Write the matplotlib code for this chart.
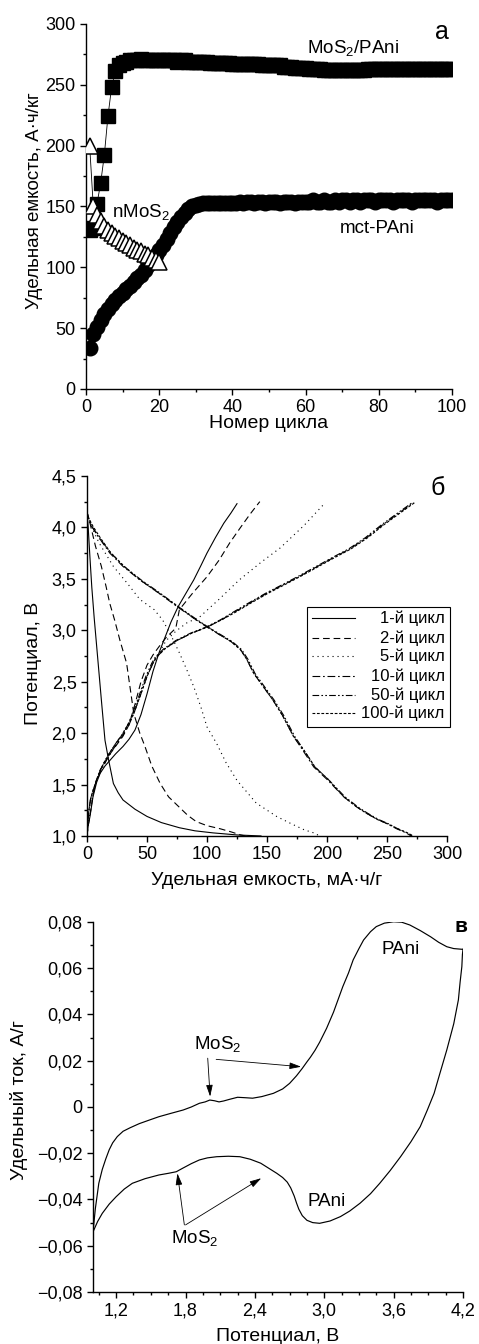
import matplotlib
matplotlib.use("Agg")
import matplotlib.pyplot as plt
import matplotlib.ticker as ticker
from matplotlib.patches import Rectangle

plt.rcParams['font.family'] = ['Liberation Sans', 'DejaVu Sans']
plt.rcParams['mathtext.fontset'] = 'custom'
plt.rcParams['mathtext.rm'] = 'Liberation Sans'
plt.rcParams['mathtext.it'] = 'Liberation Sans:italic'
plt.rcParams['mathtext.bf'] = 'Liberation Sans:bold'
plt.rcParams['axes.unicode_minus'] = True

# ---- panel a: capacity vs cycle number ----
cycles = list(range(1, 101))
mos2_pani = [131, 132, 152, 169, 192, 224, 248, 261, 266, 268,
             269, 270, 270, 270, 271, 270, 270, 270, 270, 270,
             270, 270, 270, 270, 269, 270, 270, 269, 269, 269,
             269, 269, 269, 268, 268, 268, 268, 268, 268, 267,
             267, 267, 267, 267, 267, 267, 267, 266, 266, 266,
             266, 266, 266, 265, 265, 265, 264, 264, 264, 264,
             263, 263, 263, 263, 262, 262, 262, 262, 262, 262,
             262, 262, 262, 262, 262, 262, 263, 263, 263, 263,
             263, 263, 263, 263, 263, 263, 263, 263, 263, 263,
             263, 263, 263, 263, 263, 263, 263, 263, 263, 263]
mct_pani = [34, 45, 51, 57, 62, 66, 70, 73, 76, 79,
            82, 85, 88, 91, 94, 98, 102, 106, 110, 114,
            118, 123, 128, 133, 137, 141, 145, 148, 150, 151,
            152, 153, 153, 153, 153, 153, 153, 153, 153, 153,
            153, 154, 153, 154, 154, 153, 154, 154, 153, 154,
            154, 154, 153, 154, 154, 154, 153, 154, 154, 154,
            154, 155, 154, 154, 155, 154, 154, 155, 154, 155,
            155, 154, 155, 155, 154, 155, 155, 155, 154, 155,
            155, 155, 155, 154, 155, 155, 155, 155, 154, 155,
            155, 155, 155, 155, 155, 154, 155, 155, 155, 155]
nmos2_cycles = list(range(1, 21))
nmos2 = [200, 150, 143, 138, 134, 131, 128, 126, 124, 122,
         120, 118, 116, 114, 113, 111, 110, 108, 106, 104]

# ---- panel b: charge/discharge curves (capacity mAh/g, potential V) ----
c1_dis_cap = [0, 1, 2.5, 4, 6, 9, 12, 15, 18, 22, 26, 30, 40, 50, 62, 77, 90, 105, 125, 145]
c1_dis_v = [4.15, 4.0, 3.7, 3.42, 3.12, 2.72, 2.32, 1.93, 1.74, 1.51, 1.42, 1.35, 1.26, 1.19, 1.13, 1.08, 1.05, 1.03, 1.01, 1.0]
c1_chg_cap = [0, 1, 2.5, 5, 8, 11, 15, 18, 24, 30, 35, 40, 45, 50, 55, 60, 64, 70, 76, 83, 89, 95, 100, 107, 114, 120, 125]
c1_chg_v = [1.0, 1.1, 1.19, 1.38, 1.52, 1.61, 1.68, 1.72, 1.80, 1.87, 1.94, 2.03, 2.18, 2.38, 2.60, 2.78, 2.90, 3.08, 3.23, 3.37, 3.49, 3.63, 3.75, 3.90, 4.04, 4.14, 4.23]

c2_dis_cap = [0, 2.5, 7, 12, 16, 19, 23, 27.5, 33, 39, 44, 48, 54, 61, 68, 76, 84, 91, 100, 111, 120, 128, 132]
c2_dis_v = [4.15, 4.04, 3.82, 3.62, 3.42, 3.26, 3.10, 2.90, 2.68, 2.19, 2.0, 1.88, 1.68, 1.51, 1.38, 1.29, 1.20, 1.14, 1.10, 1.07, 1.04, 1.01, 1.0]
c2_chg_cap = [0, 1, 2.5, 5, 8, 12, 16, 20, 25, 30, 35, 40, 45, 50, 55, 60, 66, 74, 77, 88, 100, 110, 119, 128, 136, 144]
c2_chg_v = [1.0, 1.1, 1.2, 1.4, 1.55, 1.66, 1.74, 1.81, 1.89, 1.97, 2.08, 2.28, 2.50, 2.66, 2.76, 2.84, 2.93, 3.02, 3.20, 3.36, 3.52, 3.68, 3.85, 4.0, 4.13, 4.25]

c5_dis_cap = [0, 2, 10, 22, 34, 44, 56, 63, 70, 77, 83, 89, 95, 100, 108, 116, 125, 141, 158, 170, 181, 189, 194]
c5_dis_v = [4.15, 4.05, 3.85, 3.62, 3.45, 3.30, 3.20, 3.10, 2.95, 2.78, 2.62, 2.45, 2.25, 2.06, 1.90, 1.71, 1.54, 1.32, 1.19, 1.12, 1.06, 1.03, 1.0]
c5_chg_cap = [0, 1, 2.5, 5, 8, 12, 16, 20, 25, 30, 36, 42, 48, 54, 60, 66, 74, 83, 94, 110, 127, 145, 161, 181, 197]
c5_chg_v = [1.0, 1.12, 1.22, 1.40, 1.55, 1.66, 1.75, 1.83, 1.91, 1.99, 2.12, 2.30, 2.50, 2.66, 2.78, 2.90, 2.99, 3.07, 3.13, 3.30, 3.49, 3.66, 3.80, 4.02, 4.22]

cl_dis_v = [4.15, 4.10, 4.01, 3.90, 3.75, 3.62, 3.49, 3.36, 3.23, 3.10, 3.03, 2.96, 2.89, 2.81, 2.72, 2.58, 2.45, 2.32, 2.17, 1.97, 1.83, 1.67, 1.55, 1.38, 1.28, 1.22, 1.16, 1.12, 1.07, 1.03, 1.00]
c10_dis_cap = [0, 1, 4, 10, 19, 30, 44, 60, 75, 91, 100, 110, 120, 128, 133, 139, 147, 155, 163, 172, 180, 189, 200, 214, 225, 233, 242, 250, 258, 266, 270]
c50_dis_cap = [0, 1, 4, 10, 20, 31, 45, 61, 76, 92, 101, 111, 121, 129, 134, 140, 148, 156, 164, 173, 181, 190, 201, 215, 226, 234, 243, 251, 259, 267, 271]
c100_dis_cap = [0, 1, 5, 11, 20, 31, 44, 60, 76, 91, 101, 110, 120, 128, 133, 139, 147, 155, 163, 172, 181, 190, 201, 214, 225, 233, 242, 250, 259, 267, 272]

cl_chg_v = [1.0, 1.12, 1.24, 1.36, 1.44, 1.54, 1.64, 1.73, 1.81, 1.90, 1.98, 2.08, 2.19, 2.35, 2.55, 2.68, 2.74, 2.82, 2.90, 2.97, 3.03, 3.10, 3.17, 3.26, 3.36, 3.45, 3.53, 3.62, 3.71, 3.79, 3.90, 4.03, 4.14, 4.24]
c10_chg_cap = [0, 0.5, 1.5, 3, 5, 8, 12, 16, 20, 25, 30, 35, 39, 44, 50, 55, 58, 65, 75, 87, 100, 112, 122, 135, 150, 165, 178, 192, 206, 219, 233, 247, 260, 272]
c50_chg_cap = [0, 0.5, 1.5, 3, 5, 8, 11, 15, 19, 24, 29, 34, 38, 43, 49, 54, 57, 64, 74, 86, 99, 111, 121, 134, 149, 164, 177, 191, 205, 218, 232, 246, 259, 271]
c100_chg_cap = [0, 0.5, 1.5, 3, 5, 8, 11, 15, 19, 24, 29, 34, 39, 44, 50, 55, 58, 65, 75, 87, 100, 112, 123, 136, 151, 166, 179, 193, 207, 220, 234, 248, 261, 273]

legend_labels = ["1-й цикл", "2-й цикл", "5-й цикл", "10-й цикл", "50-й цикл", "100-й цикл"]

# ---- panel c: cyclic voltammogram ----
cv_e_fwd = [1.00, 1.02, 1.05, 1.08, 1.11, 1.14, 1.17, 1.21, 1.26, 1.32, 1.40, 1.49, 1.57, 1.67, 1.78,
            1.85, 1.92, 1.97, 2.01, 2.05, 2.09, 2.13, 2.18, 2.25, 2.32, 2.38, 2.46, 2.56, 2.64, 2.70,
            2.76, 2.81, 2.85, 2.88, 2.92, 2.96, 3.02, 3.08, 3.12, 3.16, 3.21, 3.25, 3.30, 3.34, 3.40,
            3.45, 3.52, 3.60, 3.67, 3.74, 3.83, 3.92, 3.99, 4.06, 4.12, 4.19, 4.20]
cv_i_fwd = [-0.054, -0.044, -0.033, -0.027, -0.0225, -0.0185, -0.0155, -0.0128, -0.0105, -0.0090,
            -0.0072, -0.0056, -0.0042, -0.0028, -0.0013, 0.0000, 0.0016, 0.0022, 0.0030, 0.0027,
            0.0022, 0.0026, 0.0033, 0.0042, 0.0040, 0.0038, 0.0045, 0.0059, 0.0078, 0.0102,
            0.0135, 0.0167, 0.0195, 0.0215, 0.0245, 0.0280, 0.0340, 0.0410, 0.0465, 0.0520,
            0.0580, 0.0636, 0.0685, 0.0722, 0.0758, 0.0780, 0.0795, 0.0801, 0.0799, 0.0787,
            0.0763, 0.0736, 0.0712, 0.0693, 0.0685, 0.0682, 0.0682]
cv_e_rev = [4.20, 4.195, 4.19, 4.175, 4.16, 4.12, 4.06, 4.00, 3.95, 3.89, 3.83, 3.75, 3.66, 3.57,
            3.48, 3.40, 3.31, 3.22, 3.14, 3.05, 2.96, 2.90, 2.85, 2.81, 2.78, 2.76, 2.74, 2.71, 2.68,
            2.64, 2.59, 2.52, 2.45, 2.36, 2.27, 2.17, 2.07, 1.99, 1.92, 1.85, 1.775, 1.72, 1.65,
            1.57, 1.45, 1.34, 1.27, 1.20, 1.14, 1.08, 1.04, 1.00]
cv_i_rev = [0.0682, 0.066, 0.0607, 0.054, 0.0463, 0.036, 0.0247, 0.0145, 0.0059, -0.0015, -0.0085,
            -0.0150, -0.0215, -0.0275, -0.0330, -0.0375, -0.0416, -0.0450, -0.0474, -0.0493, -0.0503,
            -0.0500, -0.0490, -0.0470, -0.0442, -0.0415, -0.0385, -0.0350, -0.0325, -0.0305, -0.0287,
            -0.0265, -0.0243, -0.0226, -0.0215, -0.0213, -0.0215, -0.0220, -0.0229, -0.0245, -0.0265,
            -0.0280, -0.0287, -0.0294, -0.0310, -0.0330, -0.0355, -0.0388, -0.0420, -0.0460, -0.0495,
            -0.054]


def comma_fmt(decimals, zero_plain=False):
    def f(v, p):
        if zero_plain and abs(v) < 1e-9:
            return "0"
        s = f"{abs(v):.{decimals}f}".replace(".", ",")
        return ("\u2212" + s) if v < -1e-9 else s
    return ticker.FuncFormatter(f)


def style_axis(ax):
    for side in ("top", "right"):
        ax.spines[side].set_visible(False)
    for side in ("left", "bottom"):
        ax.spines[side].set_linewidth(1.0)
    ax.tick_params(which="major", direction="out", length=4.5, width=1.0, labelsize=13, pad=3)
    ax.tick_params(which="minor", direction="out", length=2.5, width=1.0)


fig = plt.figure(figsize=(4.79, 13.44), dpi=100)

# ---------------- panel a ----------------
ax1 = fig.add_axes([0.1795, 0.7106, 0.7641, 0.2716])
style_axis(ax1)
ax1.plot(cycles, mct_pani, "o-", color="black", ms=10.5, lw=0.6, zorder=2)
ax1.plot(cycles, mos2_pani, "s-", color="black", ms=9.5, lw=0.6, zorder=3)
ax1.plot(nmos2_cycles, nmos2, "^-", color="black", mfc="white", mec="black",
         ms=11, mew=1.1, lw=0.6, zorder=4)
ax1.set_xlim(0, 100)
ax1.set_ylim(0, 300)
ax1.xaxis.set_major_locator(ticker.MultipleLocator(20))
ax1.xaxis.set_minor_locator(ticker.MultipleLocator(10))
ax1.yaxis.set_major_locator(ticker.MultipleLocator(50))
ax1.yaxis.set_minor_locator(ticker.MultipleLocator(25))
ax1.set_xlabel("Номер цикла", fontsize=14)
ax1.set_ylabel("Удельная емкость, А·ч/кг", fontsize=13.5)
ax1.xaxis.set_label_coords(0.5, -0.071)
ax1.yaxis.set_label_coords(-0.117, 0.515)
ax1.text(60.4, 276, "MoS$_2$/PAni", fontsize=13.5, ha="left", va="baseline")
ax1.text(7.0, 141.6, "nMoS$_2$", fontsize=13.5, ha="left", va="baseline")
ax1.text(69.4, 128, "mct-PAni", fontsize=13.5, ha="left", va="baseline")
ax1.text(95.3, 288, "а", fontsize=18, ha="left", va="baseline")

# ---------------- panel b ----------------
ax2 = fig.add_axes([0.1816, 0.378, 0.7516, 0.2679])
style_axis(ax2)
lw = 0.8
styles = [
    dict(ls="-"),
    dict(ls=(0, (6, 3.5))),
    dict(ls=(0, (1, 3.5))),
    dict(ls=(0, (7, 2.5, 1.5, 2.5))),
    dict(ls=(0, (6, 2, 1.5, 2, 1.5, 2))),
    dict(ls=(0, (2.5, 1.5))),
]
curves = [
    (c1_dis_cap, c1_dis_v, c1_chg_cap, c1_chg_v),
    (c2_dis_cap, c2_dis_v, c2_chg_cap, c2_chg_v),
    (c5_dis_cap, c5_dis_v, c5_chg_cap, c5_chg_v),
    (c10_dis_cap, cl_dis_v, c10_chg_cap, cl_chg_v),
    (c50_dis_cap, cl_dis_v, c50_chg_cap, cl_chg_v),
    (c100_dis_cap, cl_dis_v, c100_chg_cap, cl_chg_v),
]
for (dc, dv, cc, cv), st in zip(curves, styles):
    ax2.plot(dc, dv, color="black", lw=lw, **st)
    ax2.plot(cc, cv, color="black", lw=lw, **st)
ax2.set_xlim(0, 300)
ax2.set_ylim(1.0, 4.5)
ax2.xaxis.set_major_locator(ticker.MultipleLocator(50))
ax2.xaxis.set_minor_locator(ticker.MultipleLocator(25))
ax2.yaxis.set_major_locator(ticker.MultipleLocator(0.5))
ax2.yaxis.set_minor_locator(ticker.MultipleLocator(0.25))
ax2.yaxis.set_major_formatter(comma_fmt(1))
ax2.set_xlabel("Удельная емкость, мА·ч/г", fontsize=14)
ax2.set_ylabel("Потенциал, В", fontsize=14)
ax2.xaxis.set_label_coords(0.5, -0.099)
ax2.yaxis.set_label_coords(-0.125, 0.48)
ax2.text(286, 4.315, "б", fontsize=18, ha="left", va="baseline")

# hand-built legend (text right aligned as in the original)
box = Rectangle((0.611, 0.303), 0.397, 0.333, transform=ax2.transAxes,
                facecolor="white", edgecolor="black", lw=0.8, clip_on=False, zorder=5)
ax2.add_patch(box)
rows = [0.6056, 0.55, 0.4992, 0.4436, 0.3917, 0.3417]
for y, lab, st in zip(rows, legend_labels, styles):
    ax2.plot([0.625, 0.744], [y, y], transform=ax2.transAxes, color="black",
             lw=lw, clip_on=False, zorder=6, **st)
    ax2.text(0.994, y, lab, transform=ax2.transAxes, fontsize=12,
             ha="right", va="center", zorder=6)

# ---------------- panel c ----------------
ax3 = fig.add_axes([0.1942, 0.0387, 0.7724, 0.2753])
style_axis(ax3)
ax3.plot(cv_e_fwd, cv_i_fwd, color="black", lw=0.85)
ax3.plot(cv_e_rev, cv_i_rev, color="black", lw=0.85)
ax3.set_xlim(1.0, 4.2)
ax3.set_ylim(-0.08, 0.08)
ax3.xaxis.set_major_locator(ticker.FixedLocator([1.2, 1.8, 2.4, 3.0, 3.6, 4.2]))
ax3.xaxis.set_minor_locator(ticker.MultipleLocator(0.15))
ax3.yaxis.set_major_locator(ticker.MultipleLocator(0.02))
ax3.yaxis.set_minor_locator(ticker.MultipleLocator(0.01))
ax3.xaxis.set_major_formatter(comma_fmt(1))
ax3.yaxis.set_major_formatter(comma_fmt(2, zero_plain=True))
ax3.set_xlabel("Потенциал, В", fontsize=14)
ax3.set_ylabel("Удельный ток, А/г", fontsize=14)
ax3.xaxis.set_label_coords(0.5, -0.097)
ax3.yaxis.set_label_coords(-0.176, 0.52)

ax3.text(3.495, 0.0662, "PAni", fontsize=13.5, ha="left", va="baseline")
ax3.text(2.859, -0.0428, "PAni", fontsize=13.5, ha="left", va="baseline")
ax3.text(1.877, 0.025, "MoS$_2$", fontsize=13.5, ha="left", va="baseline")
ax3.text(1.675, -0.0589, "MoS$_2$", fontsize=13.5, ha="left", va="baseline")
ax3.text(4.13, 0.0758, "в", fontsize=15, fontweight="bold", ha="left", va="baseline")

arrow = dict(arrowstyle="-|>,head_length=0.7,head_width=0.2", lw=0.6, color="black",
             shrinkA=0, shrinkB=0)
ax3.annotate("", xy=(2.013, 0.0045), xytext=(1.992, 0.0211), arrowprops=arrow)
ax3.annotate("", xy=(2.80, 0.0174), xytext=(2.065, 0.0206), arrowprops=arrow)
ax3.annotate("", xy=(1.73, -0.0287), xytext=(1.79, -0.051), arrowprops=arrow)
ax3.annotate("", xy=(2.455, -0.0308), xytext=(1.80, -0.051), arrowprops=arrow)

fig.savefig("out.png", dpi=100)
plt.close(fig)
